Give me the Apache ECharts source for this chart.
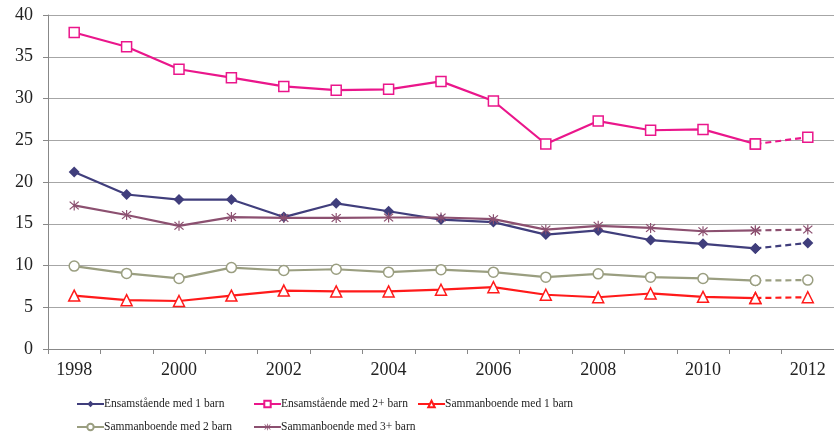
<!DOCTYPE html>
<html><head><meta charset="utf-8">
<script src="https://cdn.jsdelivr.net/npm/echarts@6/dist/echarts.min.js"></script>
<style>html,body{margin:0;padding:0;background:#fff}#c{width:834px;height:434px}</style>
</head><body><div id="c"></div>
<script>
var years = ['1998','1999','2000','2001','2002','2003','2004','2005','2006','2007','2008','2009','2010','2011','2012'];
var ensam1 = [21.2,18.5,17.9,17.9,15.8,17.45,16.5,15.5,15.2,13.7,14.2,13.05,12.6,12.05,12.7];
var ensam2 = [37.9,36.2,33.5,32.5,31.45,31.0,31.1,32.05,29.7,24.55,27.3,26.2,26.3,24.55,25.35];
var samman1 = [6.4,5.85,5.75,6.4,7.0,6.9,6.9,7.1,7.4,6.5,6.2,6.65,6.25,6.1,6.2];
var samman2 = [9.93,9.05,8.45,9.75,9.4,9.55,9.2,9.5,9.2,8.6,9.0,8.6,8.45,8.2,8.25];
var samman3 = [17.2,16.05,14.75,15.8,15.7,15.7,15.75,15.75,15.55,14.3,14.75,14.5,14.1,14.2,14.3];
var names = ['Ensamstående med 1 barn','Ensamstående med 2+ barn','Sammanboende med 1 barn','Sammanboende med 2 barn','Sammanboende med 3+ barn'];
var yTicks = [0,5,10,15,20,25,30,35,40];

var star = 'path://M9,0h2v20h-2z M1.5,3 L3,1.5 L18.5,17 L17,18.5z M18.5,3 L3,18.5 L1.5,17 L17,1.5z';
var styles = [
  {data: ensam1, color:'#403E7C', symbol:'diamond', size:11, fill:'#403E7C'},
  {data: ensam2, color:'#EA168B', symbol:'rect', size:10, fill:'#fff'},
  {data: samman1, color:'#FF1A1A', symbol:'triangle', size:11, fill:'#fff'},
  {data: samman2, color:'#9A9E80', symbol:'circle', size:10, fill:'#fff'},
  {data: samman3, color:'#8C5070', symbol:star, size:10, fill:'#8C5070'}
];
var series = [];
styles.forEach(function(s, i){
  var n = s.data.length;
  var solid = s.data.map(function(v,k){ return k < n-1 ? v : null; });
  var dashed = s.data.map(function(v,k){ return k >= n-2 ? v : null; });
  var common = {
    type:'line', symbol:s.symbol, symbolSize:s.size, showAllSymbol:true,
    itemStyle:{color:s.fill, borderColor:s.color, borderWidth: (s.fill==='#fff'?1.5:0)},
    z: 2 + i
  };
  series.push(Object.assign({}, common, {name:names[i], data:solid, lineStyle:{color:s.color, width:2.2}}));
  series.push(Object.assign({}, common, {name:names[i]+' ', data:dashed, lineStyle:{color:s.color, width:2.2, type:[6,4]}}));
});
var legendPos = [[71,393],[248,393],[412,393],[71,416],[248,416]];
var legends = names.map(function(n,i){
  return {data:[n], left:legendPos[i][0], top:legendPos[i][1], itemWidth:27, itemHeight:8, itemGap:0,
    textStyle:{fontFamily:'Liberation Serif', fontSize:11.5, color:'#222', padding:[0,0,0,-5]}};
});
var chart = echarts.init(document.getElementById('c'), null, {renderer:'canvas'});
chart.setOption({
  animation:false,
  legend: legends,
  grid:{left:48, right:-4, top:15, bottom:85},
  xAxis:{type:'category', data:years, boundaryGap:true,
    axisLine:{lineStyle:{color:'#888', width:1}},
    axisTick:{show:true, interval:0, length:5, lineStyle:{color:'#888'}},
    axisLabel:{interval:1, margin:12, fontFamily:'Liberation Serif', fontSize:18, color:'#222'}},
  yAxis:{type:'value', min:yTicks[0], max:yTicks[yTicks.length-1], interval:5,
    axisLine:{show:true, lineStyle:{color:'#888', width:1}},
    axisTick:{show:true, length:5, lineStyle:{color:'#888'}},
    splitLine:{lineStyle:{color:'#A6A6A6', width:1}},
    axisLabel:{margin:15, fontFamily:'Liberation Serif', fontSize:18, color:'#222'}},
  series: series
});
</script></body></html>
